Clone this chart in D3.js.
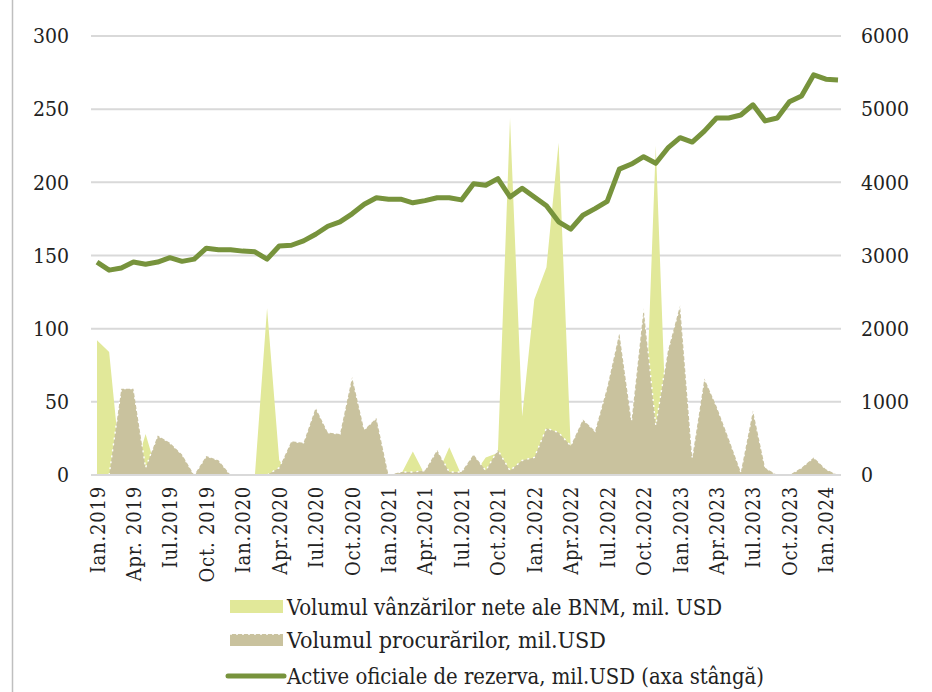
<!DOCTYPE html>
<html>
<head>
<meta charset="utf-8">
<script src="https://cdn.jsdelivr.net/npm/d3@7"></script>
<style>
  body { margin: 0; background: #fff; }
  svg { display: block; }
</style>
</head>
<body>
<div id="chart"></div>
<script>
// monthly data, Ian.2019 - Feb.2024
var reserves = [2910,2800,2830,2910,2880,2910,2970,2920,2950,3100,
  3080,3080,3060,3050,2950,3130,3140,3200,3290,3400,
  3460,3570,3700,3790,3770,3770,3720,3750,3790,3790,
  3760,3980,3960,4050,3800,3920,3800,3680,3460,3360,
  3550,3640,3740,4180,4250,4350,4260,4470,4610,4550,
  4700,4880,4880,4920,5060,4840,4880,5100,5180,5470,
  5410,5400];

var sales = [92,84,0,0,28,0,0,0,0,0,
  0,0,0,0,114,10,0,0,0,0,
  0,0,0,0,0,0,16,0,0,19,
  0,0,12,15,244,40,120,142,227,18,
  0,0,0,0,0,0,225,0,0,0,
  0,0,0,0,0,0,0,0,0,0,
  0,0];

var purchases = [0,0,59,59,5,27,22,14,0,13,
  10,0,0,0,0,5,23,22,46,29,
  28,67,31,39,0,2,2,3,17,2,
  2,14,3,17,3,10,12,32,29,20,
  38,30,60,97,37,114,34,85,116,12,
  66,47,25,2,44,5,0,0,5,12,
  4,0];

var tickLabels = ["Ian.2019","Apr. 2019","Iul.2019","Oct. 2019","Ian.2020","Apr.2020",
  "Iul.2020","Oct.2020","Ian.2021","Apr.2021","Iul.2021","Oct.2021","Ian.2022",
  "Apr.2022","Iul.2022","Oct.2022","Ian.2023","Apr.2023","Iul.2023","Oct.2023","Ian.2024"];

var leftTicks = [0, 50, 100, 150, 200, 250, 300];
var rightTicks = [0, 1000, 2000, 3000, 4000, 5000, 6000];

var legendNames = ["Volumul vânzărilor nete ale BNM, mil. USD",
  "Volumul procurărilor, mil.USD",
  "Active oficiale de rezerva, mil.USD (axa stângă)"];

var svgWidth = 932;
var svgHeight = 692;

var numFont = "'DejaVu Serif Condensed', 'DejaVu Serif', serif";

var svg = d3.select("#chart")
  .append("svg")
  .attr("width", svgWidth)
  .attr("height", svgHeight);

// frame edge on the left
svg.append("line")
  .attr("x1", 12.5).attr("x2", 12.5)
  .attr("y1", 0).attr("y2", svgHeight)
  .attr("stroke", "#bfbfbf")
  .attr("stroke-width", 1.5);

var x = d3.scaleLinear()
  .domain([0, reserves.length - 1])
  .range([97, 838]);

var yLeft = d3.scaleLinear()
  .domain([0, 300])
  .range([475, 36]);

var yRight = d3.scaleLinear()
  .domain([0, 6000])
  .range([475, 36]);

// gridlines
svg.append("g")
  .selectAll("line")
  .data(leftTicks)
  .enter()
  .append("line")
  .attr("x1", 91)
  .attr("x2", 841)
  .attr("y1", d => yLeft(d))
  .attr("y2", d => yLeft(d))
  .attr("stroke", "#d9d9d9")
  .attr("stroke-width", 2);

// sales area (behind)
var salesArea = d3.area()
  .x((d, i) => x(i))
  .y0(yLeft(0))
  .y1(d => yLeft(d));

svg.append("path")
  .datum(sales)
  .attr("d", salesArea)
  .attr("fill", "#e1e899");

// purchases area, textured edge
var purchArea = d3.area()
  .x((d, i) => x(i))
  .y0(yLeft(0))
  .y1(d => yLeft(d));

svg.append("path")
  .datum(purchases)
  .attr("d", purchArea)
  .attr("fill", "#c9c29e");

svg.append("path")
  .datum(purchases)
  .attr("d", d3.line().x((d, i) => x(i)).y(d => yLeft(d)))
  .attr("fill", "none")
  .attr("stroke", "#fff")
  .attr("stroke-width", 1.4)
  .attr("stroke-dasharray", "2,4");

// baseline
svg.append("line")
  .attr("x1", 91).attr("x2", 841)
  .attr("y1", yLeft(0)).attr("y2", yLeft(0))
  .attr("stroke", "#d9d9d9")
  .attr("stroke-width", 2);

// reserves line
svg.append("path")
  .datum(reserves)
  .attr("d", d3.line().x((d, i) => x(i)).y(d => yRight(d)))
  .attr("fill", "none")
  .attr("stroke", "#77933c")
  .attr("stroke-width", 5)
  .attr("stroke-linejoin", "round");

// axes
var leftAxis = d3.axisLeft(yLeft).tickValues(leftTicks).tickSize(0).tickPadding(0);
var gLeft = svg.append("g")
  .attr("transform", "translate(69,0)")
  .call(leftAxis);

var rightAxis = d3.axisRight(yRight)
  .tickValues(rightTicks)
  .tickFormat(d3.format("d"))
  .tickSize(0)
  .tickPadding(0);
var gRight = svg.append("g")
  .attr("transform", "translate(861,0)")
  .call(rightAxis);

[gLeft, gRight].forEach(function(g) {
  g.select(".domain").remove();
  g.selectAll("text")
    .attr("font-family", numFont)
    .attr("font-size", "21px")
    .attr("fill", "#222");
});

var tickIdx = tickLabels.map((d, i) => i * 3);
var bottomAxis = d3.axisBottom(x)
  .tickValues(tickIdx)
  .tickFormat((d, i) => tickLabels[i])
  .tickSize(0);

var gBottom = svg.append("g")
  .attr("transform", "translate(0,486)")
  .call(bottomAxis);
gBottom.select(".domain").remove();
gBottom.selectAll("text")
  .attr("font-family", numFont)
  .attr("font-size", "20px")
  .attr("letter-spacing", "0.8px")
  .attr("fill", "#222")
  .attr("text-anchor", "end")
  .attr("dy", "0.35em")
  .attr("transform", "rotate(-90)")
  .attr("x", 0)
  .attr("y", 0);

// legend
var legendY = [607, 640, 676];
var legendLen = [435, 319, 477];
var legend = svg.append("g");

legend.append("rect")
  .attr("x", 230).attr("y", legendY[0] - 7)
  .attr("width", 53).attr("height", 13)
  .attr("fill", "#e1e899");

legend.append("rect")
  .attr("x", 230).attr("y", legendY[1] - 6)
  .attr("width", 53).attr("height", 12)
  .attr("fill", "#c9c29e");
legend.append("line")
  .attr("x1", 230).attr("x2", 283)
  .attr("y1", legendY[1] - 6).attr("y2", legendY[1] - 6)
  .attr("stroke", "#fff").attr("stroke-width", 1.4)
  .attr("stroke-dasharray", "2,4");

legend.append("line")
  .attr("x1", 228).attr("x2", 284)
  .attr("y1", legendY[2]).attr("y2", legendY[2])
  .attr("stroke", "#77933c")
  .attr("stroke-width", 5)
  .attr("stroke-linecap", "round");

legend.selectAll("text")
  .data(legendNames)
  .enter()
  .append("text")
  .attr("x", 287)
  .attr("y", (d, i) => legendY[i])
  .attr("dy", "0.36em")
  .attr("font-family", numFont)
  .attr("font-size", "22px")
  .attr("fill", "#222")
  .attr("textLength", (d, i) => legendLen[i])
  .attr("lengthAdjust", "spacingAndGlyphs")
  .text(d => d);
</script>
</body>
</html>
